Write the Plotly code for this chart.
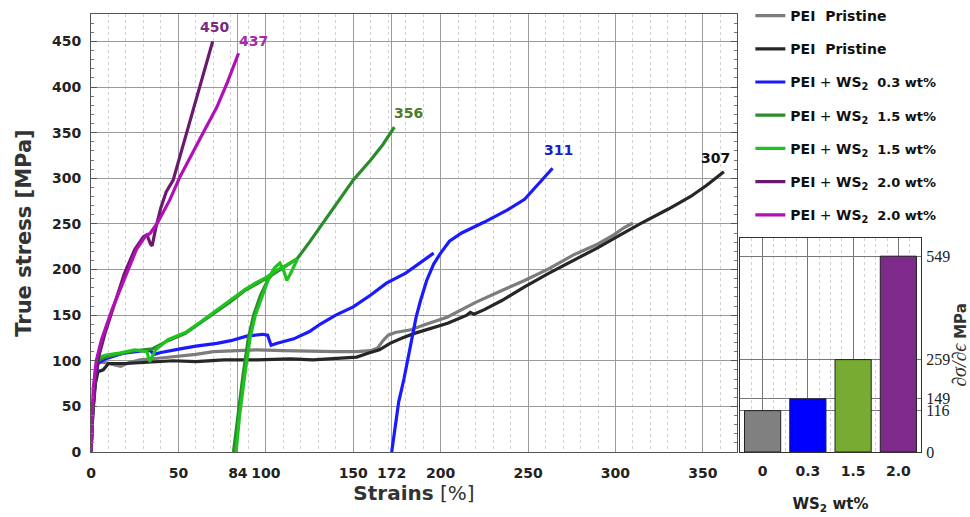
import plotly.graph_objects as go

# ---------------- data ----------------
# PEI pristine (grey)
grey_x = [0, 1, 2.5, 4, 8, 12, 17, 22, 28, 40, 50, 60, 70, 80, 95, 110, 127, 140, 152, 160, 164, 167, 170, 174,
          183, 190, 204, 220, 235, 248, 262, 276, 290, 299, 305, 310]
grey_y = [0, 45, 80, 99, 98, 96, 94, 98, 101, 103, 105, 107, 110, 111, 112, 111, 110, 110, 110, 111, 114, 122, 128, 131,
          134, 139, 148, 164, 177, 188, 201, 216, 228, 238, 246, 251]
# PEI pristine (black)
black_x = [0, 1, 2.5, 4, 7, 10, 20, 28, 47, 60, 76, 95, 114, 127, 140, 152, 158, 165, 171, 178, 185, 195, 204, 215,
           217, 219, 225, 235, 248, 262, 276, 290, 300, 314, 330, 343, 352, 362]
black_y = [0, 40, 75, 88, 90, 97, 97, 98, 100, 99, 101, 101, 102, 101, 103, 104, 108, 112, 119, 125, 130, 136, 141, 150,
           153, 151, 156, 166, 181, 196, 210, 224, 235, 250, 266, 280, 292, 307]
# PEI + WS2 0.3 wt% (blue): first loading and reloading from 172 %
blue_load_x = [0, 1, 2.5, 4, 8, 18, 30, 34, 36, 40, 51, 60, 72, 80, 89, 98, 101, 103, 106, 116, 125, 131, 140, 150,
               160, 169, 180, 188, 196]
blue_load_y = [0, 45, 80, 97, 102, 108, 111, 111, 107, 109, 113, 116, 119, 122, 127, 129, 128, 117, 119, 124, 132, 140,
               150, 159, 172, 185, 196, 207, 218]
blue_reload_x = [172, 174, 176, 179, 182, 184, 186, 188.5, 192, 196, 200, 205, 212, 225, 238, 248, 255, 264]
blue_reload_y = [0, 30, 55, 80, 110, 130, 148, 166, 188, 206, 218, 231, 240, 252, 265, 277, 292, 311]
# PEI + WS2 1.5 wt% (dark green)
dgreen_load_x = [0, 1, 2.5, 4, 8, 15, 25, 35, 44, 54, 63, 73, 80, 88, 94, 100, 106, 112, 118, 125, 131, 140, 150, 160,
                 167, 173.5]
dgreen_load_y = [0, 45, 85, 100, 104, 107, 111, 113, 122, 130, 142, 155, 165, 177, 183, 190, 197, 204, 212, 230, 246,
                 270, 298, 320, 337, 356]
dgreen_reload_x = [81.5, 84, 87, 90, 93, 97, 101, 104]
dgreen_reload_y = [0, 40, 85, 125, 150, 172, 188, 196]
# PEI + WS2 1.5 wt% (light green)
lgreen_load_x = [0, 1, 2.5, 4, 8, 15, 25, 32, 33.5, 35, 37, 44, 54, 63, 73, 80, 88, 94, 100, 106, 112, 118]
lgreen_load_y = [0, 50, 88, 103, 106, 108, 112, 110, 99, 104, 112, 123, 131, 143, 157, 167, 178, 185, 191, 199, 205, 212]
lgreen_reload_x = [83, 85, 88, 91, 94, 98, 102, 105, 108, 110, 112, 114, 116, 118]
lgreen_reload_y = [0, 40, 85, 125, 150, 172, 192, 202, 207, 200, 188, 195, 204, 211]
# PEI + WS2 2.0 wt% (dark purple)
dpurple_x = [0, 1, 2.5, 4.5, 8, 13, 19, 25, 30, 32, 34, 35, 37, 40, 43, 47, 50, 55, 60, 65, 69.6]
dpurple_y = [0, 45, 80, 105, 130, 160, 195, 222, 236, 238, 228, 226, 245, 268, 285, 298, 318, 350, 385, 418, 450]
# PEI + WS2 2.0 wt% (magenta)
magenta_x = [0, 1.3, 3, 6, 12, 19.5, 26, 31, 34, 38, 45, 51, 58, 65, 72, 78, 84.4]
magenta_y = [0, 70, 100, 123, 156, 192, 222, 236, 240, 251, 276, 302, 328, 353, 378, 405, 437]

x_ticks = [0, 50, 84, 100, 150, 172, 200, 250, 300, 350]
y_ticks = [0, 50, 100, 150, 200, 250, 300, 350, 400, 450]

# inset: slope d(sigma)/d(epsilon)
wt_labels = ['0', '0.3', '1.5', '2.0']
slope_vals = [116, 149, 259, 549]
bar_colors = ['#808080', '#0000ff', '#77ab31', '#7d2a8a']

FONT = 'DejaVu Sans'
SERIF = 'Liberation Serif'

fig = go.Figure()

def ws2(wt):
    return ('<b>PEI</b> + <b>WS<sub>2</sub></b>\u00a0 '
            '<b><span style="font-size:13px">' + wt + ' wt%</span></b>')

series = [
    ('<b>PEI\u00a0 Pristine</b>', grey_x, grey_y, '#7c7c7c'),
    ('<b>PEI\u00a0 Pristine</b>', black_x, black_y, '#262626'),
    (ws2('0.3'), blue_load_x + [None] + blue_reload_x, blue_load_y + [None] + blue_reload_y, '#1a1aff'),
    (ws2('1.5'), dgreen_load_x + [None] + dgreen_reload_x, dgreen_load_y + [None] + dgreen_reload_y, '#2a8c2a'),
    (ws2('1.5'), lgreen_load_x + [None] + lgreen_reload_x, lgreen_load_y + [None] + lgreen_reload_y, '#1fc21f'),
    (ws2('2.0'), dpurple_x, dpurple_y, '#6a1a6e'),
    (ws2('2.0'), magenta_x, magenta_y, '#b010b4'),
]
for i, (name, xs, ys, col) in enumerate(series):
    fig.add_trace(go.Scatter(x=xs, y=ys, mode='lines', name=name, legendgroup='g%d' % i,
                             line=dict(color=col, width=3.2), xaxis='x', yaxis='y'))

fig.add_trace(go.Bar(x=list(range(len(wt_labels))), y=slope_vals, width=0.8,
                     marker=dict(color=bar_colors, line=dict(color='#222', width=1)),
                     xaxis='x2', yaxis='y2', showlegend=False))

# end-point labels
end_labels = [
    (dpurple_x, dpurple_y, '#7a2a7e', 'center', 2, 4),
    (magenta_x, magenta_y, '#a42aa8', 'left', -2, 2),
    (dgreen_load_x, dgreen_load_y, '#4b7b2b', 'left', -2, 4),
    (blue_reload_x, blue_reload_y, '#1c1cc8', 'center', 6, 8),
    (black_x, black_y, '#111111', 'right', 8, 4),
]
annotations = []
for xs, ys, col, xa, xs_, ys_ in end_labels:
    annotations.append(dict(x=xs[-1], y=ys[-1], xref='x', yref='y', text='<b>%d</b>' % round(ys[-1]),
                            showarrow=False, xanchor=xa, yanchor='bottom', xshift=xs_, yshift=ys_,
                            font=dict(family=FONT, size=14, color=col)))

fig.update_layout(
    width=970, height=517,
    margin=dict(l=91, r=49, t=14, b=65, autoexpand=False),
    paper_bgcolor='white', plot_bgcolor='white',
    font=dict(family=FONT, size=14, color='#222'),
    annotations=annotations,
    legend=dict(x=0.7944, y=1.032, xanchor='left', yanchor='top', tracegroupgap=12,
                bgcolor='rgba(0,0,0,0)', font=dict(family=FONT, size=14, color='#111')),
    xaxis=dict(domain=[0, 0.7783], anchor='y', range=[0, 369.5], tickmode='array', tickvals=x_ticks,
               showgrid=True, gridcolor='#9a9a9a', gridwidth=1, zeroline=False, automargin=False,
               showline=True, linecolor='#555', linewidth=1, mirror=True, ticks='',
               ticklabelstandoff=8,
               tickfont=dict(family=FONT, size=14, weight='bold', color='#222'),
               minor=dict(tickmode='linear', tick0=0, dtick=10, showgrid=True, griddash='dot',
                          gridcolor='#d2d2d2', gridwidth=1, ticks=''),
               title=dict(text='<b>Strains</b> [%]', font=dict(family=FONT, size=20, color='#333'),
                          standoff=6)),
    yaxis=dict(domain=[0, 1], anchor='x', range=[0, 480], tickmode='array', tickvals=y_ticks,
               showgrid=True, gridcolor='#9a9a9a', gridwidth=1, zeroline=False, automargin=False,
               showline=True, linecolor='#555', linewidth=1, mirror='allticks',
               ticks='inside', ticklen=6, tickcolor='#555', ticklabelstandoff=6,
               tickfont=dict(family=FONT, size=14, weight='bold', color='#222'),
               minor=dict(tickmode='linear', tick0=0, dtick=10, ticks='inside', ticklen=3,
                          tickcolor='#777', showgrid=False),
               title=dict(text='<b>True stress [MPa]</b>', font=dict(family=FONT, size=21, color='#333'),
                          standoff=14)),
    xaxis2=dict(domain=[0.7819, 1], anchor='y2', range=[-0.5, 3.5], tickmode='array',
                tickvals=list(range(len(wt_labels))), ticktext=wt_labels, automargin=False,
                showgrid=True, gridcolor='#777', gridwidth=1, zeroline=False,
                showline=True, linecolor='#333', linewidth=1, mirror=True, ticks='',
                ticklabelstandoff=6,
                tickfont=dict(family=FONT, size=14, weight='bold', color='#222'),
                minor=dict(tickmode='linear', tick0=0, dtick=0.25, showgrid=True, griddash='dot',
                           gridcolor='#d2d2d2', ticks=''),
                title=dict(text='<b>WS<sub>2</sub> wt%</b>', font=dict(family=FONT, size=15, color='#222'),
                           standoff=20)),
    yaxis2=dict(domain=[0, 0.4886], anchor='x2', side='right', range=[0, 600], tickmode='array',
                tickvals=slope_vals + [0], showgrid=True, gridcolor='#777', gridwidth=1, zeroline=False,
                showline=True, linecolor='#333', linewidth=1, mirror=True, ticks='', automargin=False,
                ticklabelstandoff=1,
                tickfont=dict(family=SERIF, size=16, color='#222'),
                title=dict(text='<span style="font-family:Liberation Serif;font-size:20px"><i>\u2202\u03c3/\u2202\u03f5</i></span> <b>MPa</b>',
                           font=dict(family=FONT, size=15, color='#333'), standoff=9)),
)

fig.write_html('out.html')
